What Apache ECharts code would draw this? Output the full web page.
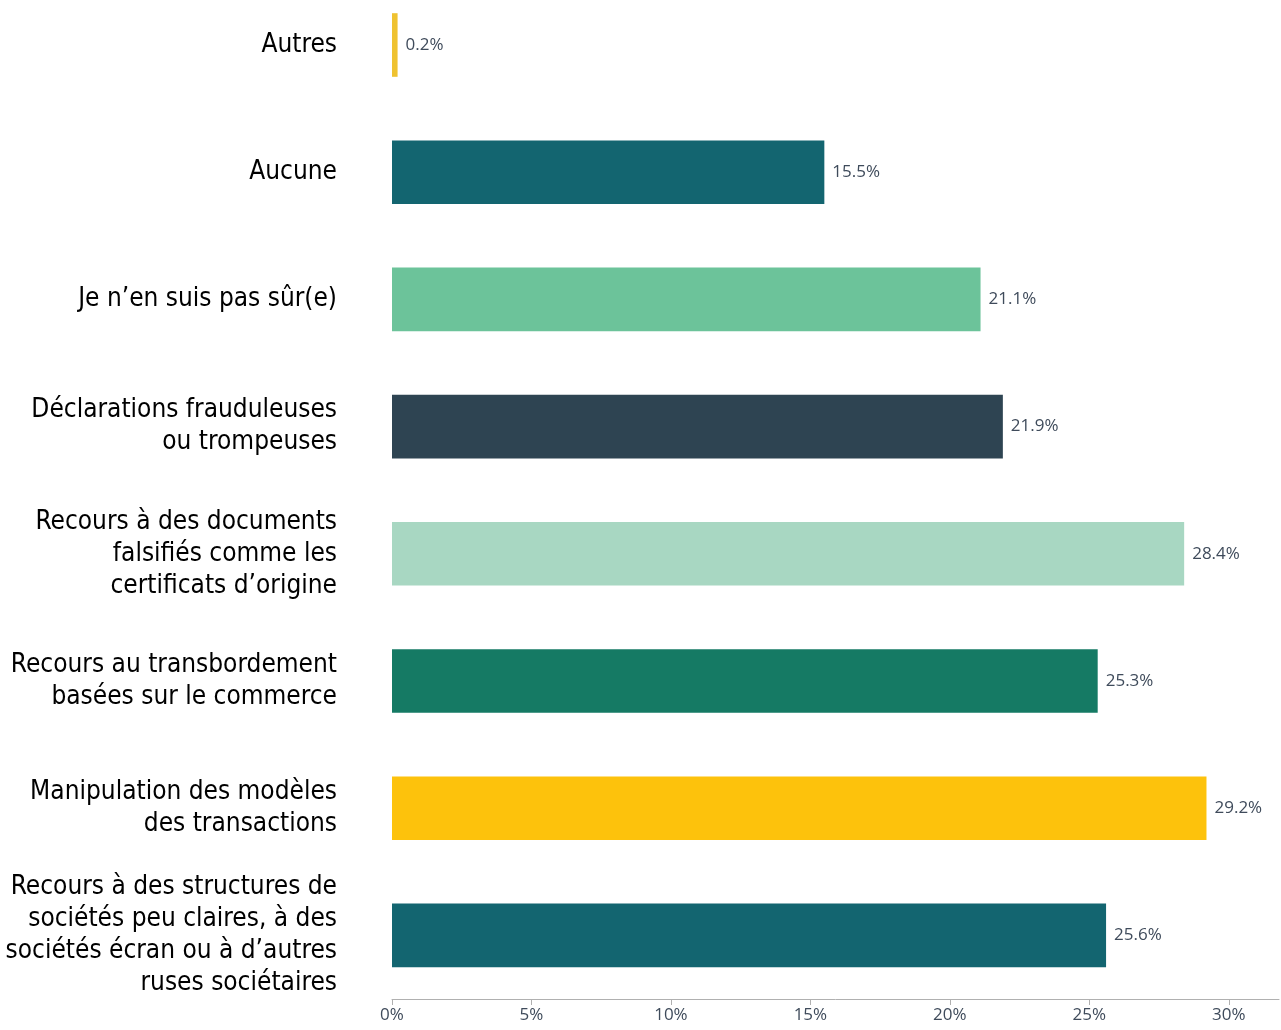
<!DOCTYPE html>
<html>
<head>
<meta charset="utf-8">
<script src="https://cdn.jsdelivr.net/npm/echarts@6/dist/echarts.min.js"></script>
<style>
  html, body { margin: 0; padding: 0; background: #ffffff; }
  #chart { width: 1281px; height: 1030px; }
</style>
</head>
<body>
<div id="chart"></div>
<script>
// Categories, top to bottom
const categories = [
  'Autres',
  'Aucune',
  'Je n’en suis pas sûr(e)',
  'Déclarations frauduleuses\nou trompeuses',
  'Recours à des documents\nfalsifiés comme les\ncertificats d’origine',
  'Recours au transbordement\nbasées sur le commerce',
  'Manipulation des modèles\ndes transactions',
  'Recours à des structures de\nsociétés peu claires, à des\nsociétés écran ou à d’autres\nruses sociétaires'
];

// Share of respondents, in percent
const values = [0.2, 15.5, 21.1, 21.9, 28.4, 25.3, 29.2, 25.6];

// One colour per bar
const barColors = ['#efc230', '#136570', '#6cc39a', '#2e4452', '#a8d7c2', '#157a64', '#fdc20c', '#136570'];

// Value axis ticks
const xTicks = [0, 5, 10, 15, 20, 25, 30];
const xMax = 31.8;

const chart = echarts.init(document.getElementById('chart'), null, { renderer: 'canvas' });

chart.setOption({
  animation: false,
  grid: { left: 392, right: 2, top: -18.6, bottom: 31, containLabel: false, outerBoundsMode: 'none' },
  xAxis: {
    type: 'value',
    min: 0,
    max: xMax,
    splitLine: { show: false },
    axisLine: { show: true, lineStyle: { color: '#b0b0b0', width: 1 } },
    axisTick: { show: true, length: 6, lineStyle: { color: '#b0b0b0' }, customValues: xTicks },
    axisLabel: {
      customValues: xTicks,
      formatter: v => v + '%',
      color: '#3f4b5b',
      fontFamily: 'Open Sans',
      fontSize: 17,
      margin: 8
    }
  },
  yAxis: {
    type: 'category',
    data: categories,
    inverse: true,
    axisLine: { show: false },
    axisTick: { show: false },
    axisLabel: {
      color: '#000000',
      fontFamily: '"Liberation Sans Narrow", "DejaVu Sans Condensed", sans-serif',
      fontSize: 26,
      lineHeight: 32,
      align: 'right',
      margin: 55
    }
  },
  series: [{
    type: 'bar',
    data: values.map((v, i) => ({ value: v, itemStyle: { color: barColors[i] } })),
    barCategoryGap: '50%',
    label: {
      show: true,
      position: 'right',
      distance: 8,
      formatter: p => p.value.toFixed(1) + '%',
      color: '#3f4b5b',
      fontFamily: 'Open Sans',
      fontSize: 17
    }
  }]
});
</script>
</body>
</html>
